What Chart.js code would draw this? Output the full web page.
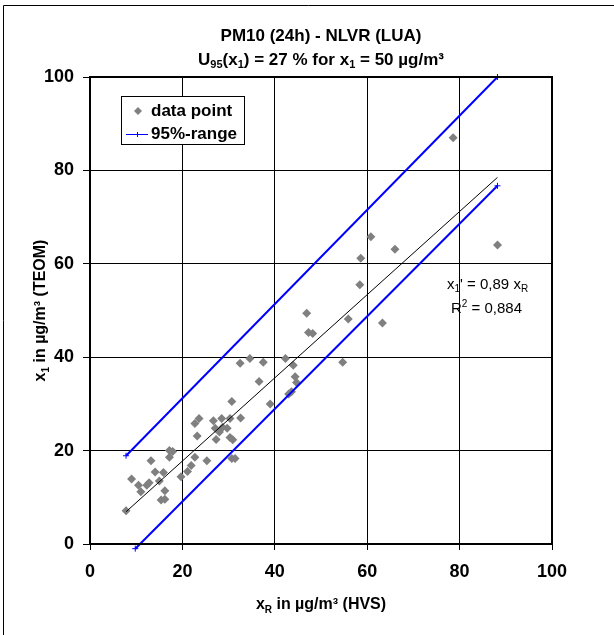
<!DOCTYPE html>
<html>
<head>
<meta charset="utf-8">
<script src="https://cdn.jsdelivr.net/npm/chart.js@4.4.1/dist/chart.umd.min.js"></script>
<style>
  body { margin: 0; background: #fff; }
  #wrap { width: 614px; height: 635px; }
</style>
</head>
<body>
<div id="wrap"><canvas id="chart_pm10" width="614" height="635"></canvas></div>
<script>
// measured pairs, HVS (x) vs TEOM (y), ug/m3
var pointXs = [
  7.8, 9.0, 10.5, 11.0, 12.3, 12.8, 13.2, 14.1, 15.0, 15.9, 16.2, 15.4, 16.2,
  17.2, 17.9, 17.2, 19.7, 21.1, 21.9, 22.7, 25.3, 23.2, 22.7, 23.6, 26.7, 28.5,
  30.3, 32.6, 27.1, 28.7, 29.7, 28.0, 27.3, 30.3, 30.9, 30.7, 31.4, 30.7, 32.5,
  34.6, 37.5, 36.6, 39.0, 42.3, 44.0, 54.7, 44.4, 44.7, 43.0, 43.6, 46.9, 55.9,
  63.3, 47.3, 48.2, 58.4, 58.6, 60.8, 66.0, 88.2, 78.6
];
var pointYs = [
  7.1, 13.9, 12.6, 11.2, 12.6, 13.1, 17.8, 15.4, 13.5, 15.3, 11.4, 9.4, 9.6,
  20.0, 19.8, 18.6, 14.4, 15.5, 16.8, 18.6, 17.8, 23.1, 25.8, 26.9, 26.4, 26.9,
  26.9, 27.0, 24.8, 25.0, 24.8, 24.0, 22.4, 22.8, 22.3, 18.3, 18.3, 30.5, 38.7,
  39.7, 38.9, 34.8, 30.0, 39.7, 38.3, 38.9, 35.8, 34.6, 32.1, 32.6, 49.4, 48.2,
  47.3, 45.3, 45.1, 55.5, 61.2, 65.8, 63.1, 64.0, 87.0
];

// regression line x1' = 0,89 xR (end points)
var fitXs = [7.8, 88.2];
var fitYs = [6.9, 78.5];

// 95%-range lines
var upperXs = [7.8, 88.2];
var upperYs = [18.9, 100];
var lowerXs = [9.8, 88.2];
var lowerYs = [-1.0, 76.7];

var axisTicks = [0, 20, 40, 60, 80, 100];

var FONT = '"Liberation Sans", Arial, sans-serif';

function pairs(xs, ys) {
  return xs.map(function (x, i) { return { x: x, y: ys[i] }; });
}

// draws text made of pieces, some of them sub- or superscript
function richText(ctx, parts, x, y, size, weight, align) {
  var small = Math.round(size * 0.65);
  var total = 0;
  parts.forEach(function (p) {
    ctx.font = weight + ' ' + (p.sub || p.sup ? small : size) + 'px ' + FONT;
    p.w = ctx.measureText(p.t).width;
    total += p.w;
  });
  var cx = align === 'center' ? x - total / 2 : x;
  ctx.textAlign = 'left';
  ctx.textBaseline = 'middle';
  parts.forEach(function (p) {
    ctx.font = weight + ' ' + (p.sub || p.sup ? small : size) + 'px ' + FONT;
    var dy = p.sub ? size * 0.3 : (p.sup ? -size * 0.35 : 0);
    ctx.fillText(p.t, cx, y + dy);
    cx += p.w;
  });
}

var decorations = {
  id: 'decorations',
  beforeDraw: function (chart) {
    var ctx = chart.ctx;
    ctx.save();
    ctx.fillStyle = '#fff';
    ctx.fillRect(0, 0, chart.width, chart.height);
    ctx.restore();
  },
  afterDraw: function (chart) {
    var ctx = chart.ctx;
    var a = chart.chartArea;
    ctx.save();
    // outer frame (only top and left are inside the picture)
    ctx.strokeStyle = '#000';
    ctx.lineWidth = 1;
    ctx.beginPath();
    ctx.moveTo(3.5, 635);
    ctx.lineTo(3.5, 5.5);
    ctx.lineTo(614, 5.5);
    ctx.stroke();

    // plot frame
    ctx.lineWidth = 2;
    ctx.strokeRect(a.left, a.top, a.right - a.left, a.bottom - a.top);

    ctx.fillStyle = '#000';
    var cx = (a.left + a.right) / 2;
    ctx.font = 'bold 17px ' + FONT;
    ctx.textAlign = 'center';
    ctx.textBaseline = 'middle';
    ctx.fillText('PM10 (24h) - NLVR (LUA)', cx, 36);
    richText(ctx, [
      { t: 'U' }, { t: '95', sub: true }, { t: '(x' }, { t: '1', sub: true },
      { t: ') = 27 % for x' }, { t: '1', sub: true }, { t: ' = 50 µg/m³' }
    ], cx, 60, 17, 'bold', 'center');

    // axis titles
    richText(ctx, [
      { t: 'x' }, { t: 'R', sub: true }, { t: ' in µg/m³ (HVS)' }
    ], cx, 605, 16, 'bold', 'center');
    ctx.save();
    ctx.translate(41, (a.top + a.bottom) / 2);
    ctx.rotate(-Math.PI / 2);
    richText(ctx, [
      { t: 'x' }, { t: '1', sub: true }, { t: ' in µg/m³ (TEOM)' }
    ], 0, 0, 16, 'bold', 'center');
    ctx.restore();

    // regression annotation
    richText(ctx, [
      { t: 'x' }, { t: '1', sub: true }, { t: '\' = 0,89 x' }, { t: 'R', sub: true }
    ], 447, 285, 15, 'normal', 'left');
    richText(ctx, [
      { t: 'R' }, { t: '2', sup: true }, { t: ' = 0,884' }
    ], 451, 309, 15, 'normal', 'left');

    // legend box
    var ds = chart.data.datasets;
    ctx.fillStyle = '#fff';
    ctx.fillRect(121.5, 96.5, 123, 48);
    ctx.lineWidth = 1;
    ctx.strokeStyle = '#000';
    ctx.strokeRect(121.5, 96.5, 123, 48);
    ctx.fillStyle = '#808080';
    ctx.beginPath();
    ctx.moveTo(138, 107); ctx.lineTo(142, 111); ctx.lineTo(138, 115); ctx.lineTo(134, 111);
    ctx.closePath();
    ctx.fill();
    ctx.strokeStyle = '#0000ff';
    ctx.lineWidth = 1;
    ctx.beginPath();
    ctx.moveTo(126, 134.5); ctx.lineTo(148, 134.5);
    ctx.moveTo(137.5, 132); ctx.lineTo(137.5, 137);
    ctx.stroke();
    ctx.fillStyle = '#000';
    ctx.font = 'bold 17px ' + FONT;
    ctx.textAlign = 'left';
    ctx.textBaseline = 'middle';
    ctx.fillText(ds[0].label, 151, 111);
    ctx.fillText(ds[2].label, 151, 134);
    ctx.restore();
  }
};

var chart_pm10 = new Chart(document.getElementById('chart_pm10'), {
  type: 'scatter',
  data: {
    datasets: [
      {
        label: 'data point',
        data: pairs(pointXs, pointYs),
        pointStyle: 'rectRot',
        pointRadius: 4.5,
        pointBackgroundColor: '#808080',
        pointBorderColor: '#808080',
        pointBorderWidth: 0,
        showLine: false,
        order: 2
      },
      {
        label: 'fit',
        data: pairs(fitXs, fitYs),
        showLine: true,
        borderColor: '#000',
        borderWidth: 1,
        pointRadius: 0,
        order: 1
      },
      {
        label: '95%-range',
        data: pairs(upperXs, upperYs),
        showLine: true,
        borderColor: '#0000ff',
        borderWidth: 2,
        pointStyle: 'cross',
        pointRadius: 3,
        pointBorderColor: '#0000ff',
        pointBorderWidth: 1,
        clip: false,
        order: 0
      },
      {
        label: '95%-range (lower)',
        data: pairs(lowerXs, lowerYs),
        showLine: true,
        borderColor: '#0000ff',
        borderWidth: 2,
        pointStyle: 'cross',
        pointRadius: 3,
        pointBorderColor: '#0000ff',
        pointBorderWidth: 1,
        clip: false,
        order: 0
      }
    ]
  },
  options: {
    animation: false,
    responsive: false,
    layout: { padding: { top: 77, right: 62, left: 0, bottom: 0 } },
    plugins: {
      legend: { display: false },
      title: { display: false },
      tooltip: { enabled: false }
    },
    scales: {
      x: {
        type: 'linear',
        min: 0,
        max: 100,
        afterBuildTicks: function (s) { s.ticks = axisTicks.map(function (v) { return { value: v }; }); },
        afterFit: function (s) { s.height = 91; },
        ticks: {
          color: '#000',
          font: { family: FONT, size: 18, weight: 'bold' },
          padding: 11,
          maxRotation: 0
        },
        grid: { color: '#000', lineWidth: 1, tickLength: 6 },
        border: { display: false }
      },
      y: {
        type: 'linear',
        min: 0,
        max: 100,
        afterBuildTicks: function (s) { s.ticks = axisTicks.map(function (v) { return { value: v }; }); },
        afterFit: function (s) { s.width = 90; },
        ticks: {
          color: '#000',
          font: { family: FONT, size: 18, weight: 'bold' },
          padding: 9
        },
        grid: { color: '#000', lineWidth: 1, tickLength: 7 },
        border: { display: false }
      }
    }
  },
  plugins: [decorations]
});
</script>
</body>
</html>
